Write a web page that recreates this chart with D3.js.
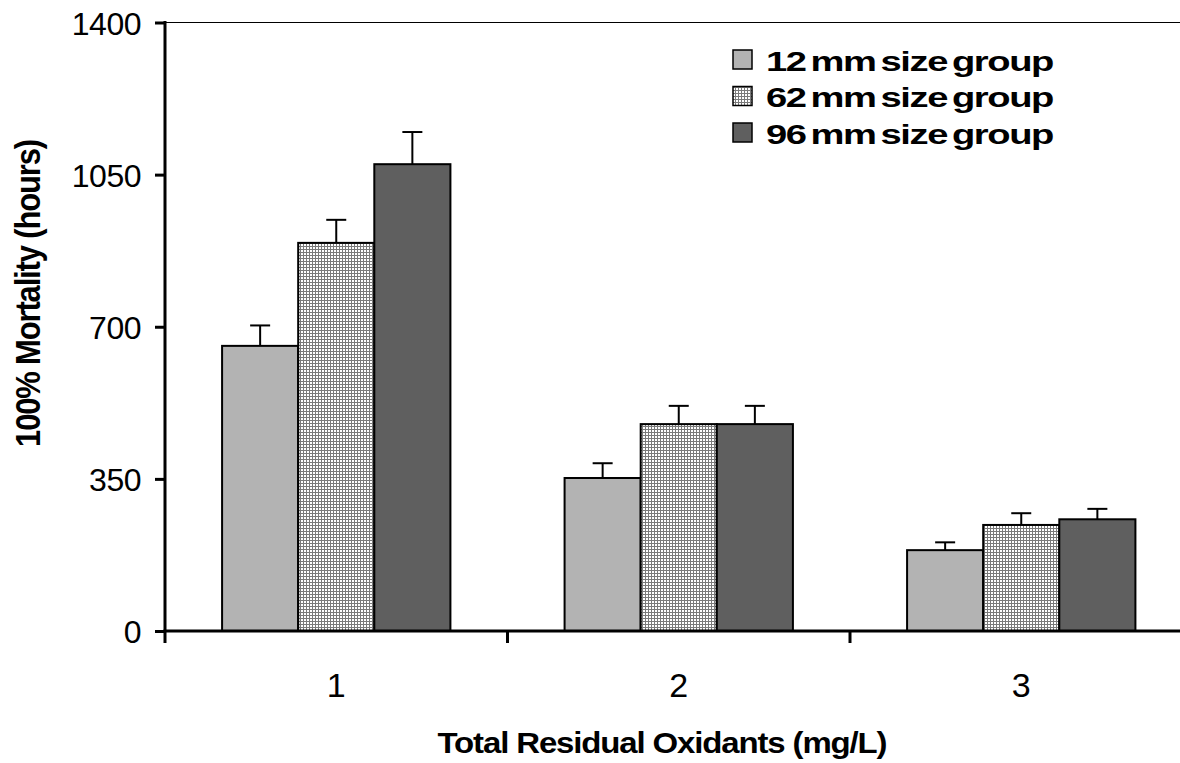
<!DOCTYPE html>
<html>
<head>
<meta charset="utf-8">
<script src="https://cdn.jsdelivr.net/npm/d3@7"></script>
<style>
  html, body { margin: 0; padding: 0; background: #fff; }
  svg { display: block; font-family: "Liberation Sans", Arial, sans-serif; }
</style>
</head>
<body>
<svg id="chart" width="1180" height="763"></svg>
<script>
// ---- data ----
const categories = ["1", "2", "3"];
const seriesNames = ["12 mm size group", "62 mm size group", "96 mm size group"];
const mm12 = [656, 352, 186];
const mm62 = [893, 476, 244];
const mm96 = [1074, 476, 257];
const err12 = [47, 34, 18];
const err62 = [53, 42, 27];
const err96 = [74, 42, 24];
const yTicks = [0, 350, 700, 1050, 1400];
const xTitle = "Total Residual Oxidants (mg/L)";
const yTitle = "100% Mortality (hours)";

(function () {
const seriesValues = [mm12, mm62, mm96];
const seriesErrors = [err12, err62, err96];

// ---- layout ----
const svg = d3.select("#chart");
const pLeft = 165, pRight = 1192.5, pTop = 22.5, pBottom = 631;

const y = d3.scaleLinear().domain([0, 1400]).range([pBottom, pTop]);
const x = d3.scaleBand().domain(categories).range([pLeft, pRight]).paddingInner(0).paddingOuter(0);
const xs = d3.scaleBand().domain(d3.range(seriesNames.length)).range([0, x.bandwidth()]).paddingInner(0).paddingOuter(0.75);

// patterns
const defs = svg.append("defs");
const pat = defs.append("pattern").attr("id", "grid").attr("patternUnits", "userSpaceOnUse")
  .attr("width", 3).attr("height", 3);
pat.append("rect").attr("width", 3).attr("height", 3).attr("fill", "#7a7a7a");
pat.append("rect").attr("x", 1).attr("y", 1).attr("width", 2).attr("height", 2).attr("fill", "#ffffff");

const fills = ["#b3b3b3", "url(#grid)", "#5f5f5f"];

// helper: stretch a text horizontally (in its own frame) to a target length
function fitWidth(textSel, target, anchorX, anchorY, extra) {
  const w = textSel.node().getComputedTextLength();
  const s = target / w;
  textSel.attr("transform", `translate(${anchorX},${anchorY}) ${extra || ""} scale(${s},1)`)
    .attr("x", 0).attr("y", 0);
}

// top border line
svg.append("line").attr("x1", pLeft).attr("x2", 1180).attr("y1", pTop).attr("y2", pTop)
  .attr("stroke", "#000").attr("stroke-width", 1);

// bars
const data = [];
categories.forEach((c, i) => {
  seriesNames.forEach((s, j) => {
    data.push({ c, j, v: seriesValues[j][i], e: seriesErrors[j][i] });
  });
});

svg.append("g").selectAll("rect").data(data).join("rect")
  .attr("x", d => x(d.c) + xs(d.j))
  .attr("y", d => y(d.v))
  .attr("width", xs.bandwidth())
  .attr("height", d => y(0) - y(d.v))
  .attr("fill", d => fills[d.j])
  .attr("stroke", "#000").attr("stroke-width", 2);

// error bars (upward only)
const eg = svg.append("g").attr("stroke", "#000").attr("stroke-width", 2);
data.forEach(d => {
  const cx = x(d.c) + xs(d.j) + xs.bandwidth() / 2;
  eg.append("line").attr("x1", cx).attr("x2", cx).attr("y1", y(d.v)).attr("y2", y(d.v + d.e));
  eg.append("line").attr("x1", cx - 10).attr("x2", cx + 10).attr("y1", y(d.v + d.e)).attr("y2", y(d.v + d.e));
});

// y axis
const yAxis = d3.axisLeft(y).tickValues(yTicks).tickSize(10).tickPadding(14).tickFormat(d3.format("d"));
const yg = svg.append("g").attr("transform", `translate(${pLeft},0)`).call(yAxis);
yg.select(".domain").remove();
yg.selectAll(".tick line").attr("stroke", "#000").attr("stroke-width", 3);
yg.selectAll(".tick text").attr("font-size", 32).attr("fill", "#000")
  .attr("font-family", "'Liberation Sans', Arial, sans-serif").attr("dy", "0.36em")
  .attr("letter-spacing", "-0.5px");
svg.append("line").attr("x1", pLeft).attr("x2", pLeft).attr("y1", pTop - 1.5).attr("y2", pBottom + 12)
  .attr("stroke", "#000").attr("stroke-width", 3);

// x axis
svg.append("line").attr("x1", pLeft - 1.5).attr("x2", 1180).attr("y1", pBottom).attr("y2", pBottom)
  .attr("stroke", "#000").attr("stroke-width", 3);
const bounds = categories.map(c => x(c)).concat([x(categories[categories.length - 1]) + x.bandwidth()]);
svg.append("g").selectAll("line").data(bounds.slice(1)).join("line")
  .attr("x1", d => d).attr("x2", d => d).attr("y1", pBottom).attr("y2", pBottom + 12)
  .attr("stroke", "#000").attr("stroke-width", 3);
svg.append("g").selectAll("text").data(categories).join("text")
  .attr("x", d => x(d) + x.bandwidth() / 2)
  .attr("y", 697)
  .attr("text-anchor", "middle")
  .attr("font-size", 34)
  .text(d => d);

// axis titles
const xt = svg.append("text").attr("text-anchor", "middle")
  .attr("font-size", 29).attr("font-weight", "bold").attr("letter-spacing", "-1px")
  .text(xTitle);
fitWidth(xt, 449, 662, 753);

const yt = svg.append("text").attr("text-anchor", "middle")
  .attr("font-size", 28).attr("font-weight", "bold").attr("letter-spacing", "-1px")
  .text(yTitle);
{
  const w = yt.node().getComputedTextLength();
  const sLen = 307 / w;
  yt.attr("transform", `translate(39.5,293.5) rotate(-90) scale(${sLen},1.22)`);
}

// legend
const lg = svg.append("g");
seriesNames.forEach((s, j) => {
  const ty = 50 + j * 36.5;
  lg.append("rect").attr("x", 733).attr("y", ty).attr("width", 19).attr("height", 19)
    .attr("fill", fills[j]).attr("stroke", "#000").attr("stroke-width", 1.5);
  const t = lg.append("text")
    .attr("font-size", 27).attr("font-weight", "bold")
    .attr("letter-spacing", "-1px").attr("word-spacing", "-3px")
    .text(s);
  fitWidth(t, 287, 766, ty + 20.5);
});
})();
</script>
</body>
</html>
